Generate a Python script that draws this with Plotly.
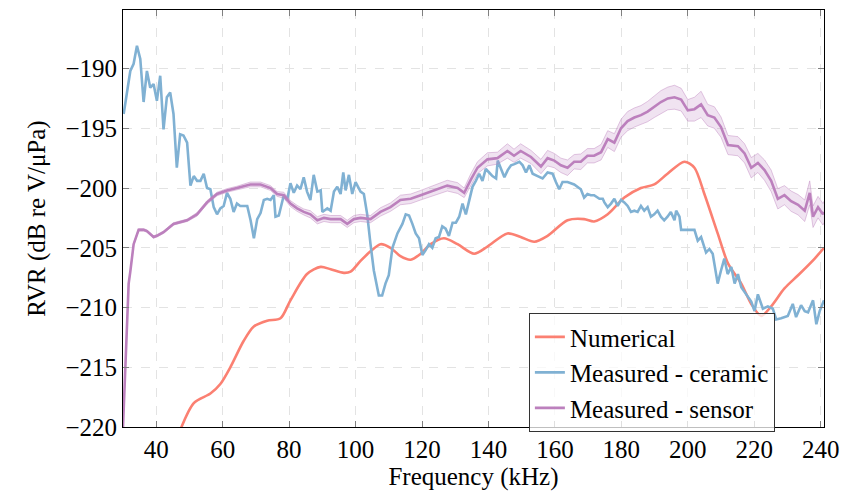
import plotly.graph_objects as go

# ---------------- data ----------------
num_freq = [45.5, 51.3, 56.3, 59.3, 62.3, 66.3, 69.3, 73.4, 77.4, 80.4,
            85.4, 89.5, 92.5, 96.5, 98.5, 101.5, 104.5, 107.5, 110.5, 113.5,
            116.6, 119.6, 122.6, 126.6, 130.7, 135.7, 139.7, 145.7, 149.7, 153.8,
            157.8, 163.8, 168.8, 171.8, 175.9, 180.9, 185.9, 189.9, 193.9, 199.0,
            202.0, 205.0, 209.0, 212.1, 216.1, 219.1, 222.1, 225.1, 229.1, 233.2,
            238.2, 241.0]
num_rvr = [-221.5, -218.0, -217.2, -216.4, -215.0, -212.8, -211.6, -211.1, -210.9, -209.4,
           -207.2, -206.6, -206.8, -207.1, -207.0, -206.1, -205.3, -204.7, -205.0, -205.7,
           -206.0, -205.5, -204.7, -204.2, -204.7, -205.5, -204.9, -203.8, -204.1, -204.5,
           -204.0, -202.7, -202.6, -202.8, -202.2, -200.8, -200.0, -199.7, -198.8, -197.8,
           -198.3, -200.5, -203.8, -206.3, -208.0, -209.7, -210.7, -209.9, -208.4, -207.3,
           -205.9, -205.0]

cer_freq = [30.2, 31.2, 32.2, 33.2, 34.2, 35.2, 36.2, 37.2, 38.2, 39.2,
            40.2, 41.2, 42.2, 43.2, 44.2, 45.2, 46.2, 47.2, 48.2, 49.3,
            50.3, 51.3, 52.3, 53.3, 54.3, 55.3, 56.3, 57.3, 58.3, 59.3,
            60.3, 61.3, 62.3, 63.3, 64.3, 65.3, 66.3, 67.4, 68.4, 69.4,
            70.4, 71.4, 72.4, 73.4, 74.4, 75.4, 75.9, 76.9, 78.4, 79.4,
            80.4, 81.4, 82.4, 83.4, 84.4, 85.4, 86.4, 87.4, 88.5, 89.5,
            90.0, 91.5, 92.5, 93.5, 94.5, 95.5, 96.3, 97.0, 98.0, 99.0,
            100.0, 101.5, 102.5, 103.5, 104.5, 105.5, 106.5, 107.0, 108.0, 109.0,
            110.0, 111.1, 112.6, 114.1, 115.1, 116.1, 117.1, 118.1, 119.1, 120.1,
            121.1, 122.1, 123.1, 124.1, 125.1, 126.1, 127.1, 128.1, 129.2, 130.2,
            131.2, 132.2, 133.2, 134.2, 135.2, 136.2, 137.2, 138.2, 139.2, 140.2,
            141.2, 142.3, 142.8, 143.8, 144.8, 145.8, 146.8, 147.8, 149.3, 150.3,
            151.3, 152.3, 153.3, 154.8, 156.3, 157.8, 159.3, 160.3, 161.3, 162.3,
            163.8, 165.8, 167.8, 168.8, 169.8, 170.8, 171.8, 173.4, 174.4, 174.9,
            175.9, 176.9, 177.9, 178.9, 179.9, 180.9, 181.9, 182.9, 183.9, 184.9,
            185.9, 186.9, 187.9, 188.9, 189.9, 190.9, 191.9, 192.9, 193.9, 194.9,
            196.0, 196.5, 197.5, 198.0, 200.0, 202.0, 203.0, 204.0, 205.5, 206.5,
            207.5, 209.0, 210.0, 211.0, 212.0, 213.1, 214.1, 215.1, 216.1, 217.6,
            219.1, 220.1, 221.1, 222.6, 224.1, 225.6, 226.6, 228.1, 230.1, 231.6,
            232.6, 234.1, 235.2, 236.2, 237.7, 238.7, 239.7, 241.0]
cer_rvr = [-193.8, -192.1, -190.2, -189.6, -188.1, -189.2, -192.8, -190.2, -191.6, -191.3,
           -192.7, -190.6, -195.1, -192.4, -192.0, -193.8, -198.3, -195.5, -195.6, -196.2,
           -199.8, -199.0, -199.4, -199.4, -198.8, -200.0, -200.1, -201.6, -202.2, -201.7,
           -201.5, -200.4, -200.9, -202.0, -201.3, -201.5, -201.5, -201.5, -202.7, -204.2,
           -202.6, -202.1, -201.0, -200.9, -201.0, -200.6, -202.4, -202.3, -200.6, -201.0,
           -199.6, -200.4, -199.8, -200.1, -199.1, -200.3, -201.0, -198.9, -200.3, -200.2,
           -202.0, -201.7, -201.9, -200.3, -199.9, -200.5, -198.7, -200.2, -198.9, -200.5,
           -199.5, -200.3, -200.5, -202.2, -204.7, -206.9, -208.3, -209.0, -209.0, -208.0,
           -207.3, -205.0, -203.8, -203.0, -202.2, -202.3, -203.0, -203.8, -204.2, -205.6,
           -205.2, -204.7, -205.0, -204.2, -204.1, -203.2, -203.4, -204.0, -202.9, -202.9,
           -202.4, -201.3, -202.2, -201.0, -199.9, -199.4, -198.8, -199.4, -198.4, -198.7,
           -199.0, -199.2, -197.7, -198.4, -199.1, -198.5, -198.1, -198.0, -197.8, -198.1,
           -198.7, -198.1, -198.8, -199.0, -199.2, -198.7, -198.8, -199.5, -200.1, -199.5,
           -199.5, -199.7, -200.1, -200.8, -200.5, -200.6, -200.6, -200.9, -200.9, -201.2,
           -201.6, -201.3, -200.9, -201.5, -201.0, -201.2, -201.5, -202.0, -201.9, -202.0,
           -201.5, -201.9, -201.6, -202.4, -202.2, -201.9, -202.4, -202.7, -202.4, -202.0,
           -202.7, -201.9, -202.4, -203.5, -203.5, -203.5, -204.4, -204.1, -205.4, -205.1,
           -205.5, -208.0, -206.9, -205.9, -207.2, -206.6, -208.0, -207.2, -208.3, -208.9,
           -209.5, -210.3, -208.9, -210.1, -209.9, -210.1, -211.0, -210.9, -210.7, -209.7,
           -210.8, -209.8, -210.3, -210.4, -209.4, -211.4, -210.3, -209.4]

sen_freq = [30.0, 30.7, 31.7, 32.2, 33.2, 34.7, 36.2, 37.2, 39.2, 40.2,
            42.2, 45.2, 49.3, 52.3, 55.3, 58.3, 61.3, 64.3, 68.3, 71.4,
            74.4, 76.4, 78.4, 80.4, 82.4, 84.4, 86.4, 88.5, 90.5, 92.5,
            95.5, 97.5, 99.5, 101.5, 104.5, 107.5, 110.5, 113.5, 116.6, 119.6,
            122.6, 125.6, 127.6, 130.7, 132.7, 134.7, 136.7, 139.7, 142.7, 145.7,
            147.7, 149.7, 152.8, 155.8, 157.8, 159.8, 161.8, 163.8, 165.8, 167.8,
            169.8, 171.8, 173.9, 175.9, 177.9, 179.9, 181.9, 183.9, 185.9, 187.9,
            189.9, 191.9, 194.0, 196.0, 198.0, 200.0, 202.0, 204.0, 206.0, 208.0,
            210.0, 212.1, 215.1, 217.1, 219.1, 221.1, 223.1, 225.1, 227.1, 229.1,
            231.1, 233.2, 235.2, 236.7, 237.7, 239.2, 240.7, 241.0]
sen_rvr = [-220.0, -215.0, -208.0, -207.0, -204.7, -203.5, -203.5, -203.6, -204.1, -204.0,
           -203.7, -203.0, -202.7, -202.2, -201.2, -200.5, -200.2, -200.0, -199.7, -199.7,
           -200.0, -200.5, -200.6, -201.3, -201.7, -202.0, -202.2, -202.7, -202.5, -202.6,
           -202.6, -203.0, -202.6, -202.5, -202.6, -202.0, -201.6, -201.0, -200.9, -200.6,
           -200.3, -200.0, -199.8, -200.0, -200.4, -199.3, -198.3, -197.6, -197.5, -196.9,
           -197.3, -196.9, -197.4, -198.2, -197.5, -197.7, -198.1, -198.3, -197.8, -197.8,
           -197.3, -197.3, -197.0, -195.9, -196.2, -195.0, -194.4, -194.1, -193.9, -193.6,
           -193.2, -192.8, -192.5, -192.4, -192.6, -193.5, -193.4, -193.0, -193.9, -194.1,
           -194.9, -196.4, -196.5, -197.1, -198.3, -197.9, -198.5, -199.4, -200.9, -200.6,
           -201.1, -201.4, -201.9, -200.4, -202.4, -201.6, -202.2, -202.0]
sen_spread = [0.0, 0.05, 0.1, 0.1, 0.1, 0.1, 0.1, 0.1, 0.1, 0.1,
              0.1, 0.1, 0.1, 0.15, 0.15, 0.15, 0.15, 0.15, 0.2, 0.2,
              0.2, 0.2, 0.25, 0.25, 0.25, 0.25, 0.3, 0.3, 0.3, 0.3,
              0.3, 0.3, 0.3, 0.3, 0.3, 0.35, 0.35, 0.4, 0.4, 0.4,
              0.4, 0.45, 0.45, 0.45, 0.4, 0.5, 0.5, 0.55, 0.5, 0.6,
              0.55, 0.6, 0.55, 0.6, 0.65, 0.6, 0.6, 0.65, 0.6, 0.65,
              0.6, 0.6, 0.65, 0.7, 0.75, 0.75, 0.8, 0.8, 0.8, 0.85,
              0.9, 0.95, 0.95, 1.0, 0.95, 0.9, 1.0, 1.1, 0.9, 0.9,
              0.85, 0.8, 0.8, 0.8, 0.85, 0.8, 0.85, 0.9, 0.85, 0.8,
              0.85, 0.85, 0.9, 1.0, 0.9, 0.9, 0.9, 0.9]

x_ticks = [40, 60, 80, 100, 120, 140, 160, 180, 200, 220, 240]
y_ticks = [-220, -215, -210, -205, -200, -195, -190]
y_tick_text = ["\u2212220", "\u2212215", "\u2212210", "\u2212205", "\u2212200", "\u2212195", "\u2212190"]

# ---------------- styling ----------------
RED = "#fb8072"
BLUE = "#80b1d3"
PURPLE = "#bc80bd"
FONT = "Liberation Serif, Times New Roman, serif"
FS = 25

sen_upper = [v + s for v, s in zip(sen_rvr, sen_spread)]
sen_lower = [v - s for v, s in zip(sen_rvr, sen_spread)]

fig = go.Figure()
fig.add_trace(go.Scatter(x=num_freq, y=num_rvr, mode="lines", name="Numerical",
                         line=dict(color=RED, width=2.6, shape="spline", smoothing=0.8)))
fig.add_trace(go.Scatter(x=cer_freq, y=cer_rvr, mode="lines", name="Measured - ceramic",
                         line=dict(color=BLUE, width=2.6)))
fig.add_trace(go.Scatter(x=sen_freq, y=sen_upper, mode="lines", showlegend=False,
                         line=dict(color="rgba(188,128,189,0.55)", width=0.8),
                         hoverinfo="skip"))
fig.add_trace(go.Scatter(x=sen_freq, y=sen_lower, mode="lines", showlegend=False,
                         line=dict(color="rgba(188,128,189,0.55)", width=0.8),
                         fill="tonexty", fillcolor="rgba(188,128,189,0.22)",
                         hoverinfo="skip"))
fig.add_trace(go.Scatter(x=sen_freq, y=sen_rvr, mode="lines", name="Measured - sensor",
                         line=dict(color=PURPLE, width=2.6)))

axis_common = dict(
    showline=True, linecolor="black", linewidth=1, mirror="allticks",
    ticks="inside", ticklen=6, tickcolor="#808080", tickwidth=1,
    showgrid=True, gridcolor="#e3e3e3", gridwidth=1, griddash="dash",
    zeroline=False, tickfont=dict(family=FONT, size=FS, color="black"),
)

fig.update_xaxes(range=[30, 241], tickvals=x_ticks,
                 title=dict(text="Frequency (kHz)", font=dict(family=FONT, size=FS, color="black"),
                            standoff=4),
                 **axis_common)
fig.update_yaxes(range=[-220, -185.1], tickvals=y_ticks, ticktext=y_tick_text,
                 title=dict(text="RVR (dB re V/\u03bcPa)", font=dict(family=FONT, size=FS, color="black"),
                            standoff=12),
                 **axis_common)

fig.update_layout(
    template="none",
    width=842, height=497,
    margin=dict(l=123, r=18, t=10, b=70),
    paper_bgcolor="white", plot_bgcolor="white",
    font=dict(family=FONT, size=FS, color="black"),
    showlegend=True,
    legend=dict(x=0.579, y=0.273, xanchor="left", yanchor="top",
                traceorder="normal",
                bgcolor="rgba(255,255,255,0.75)", bordercolor="#333333", borderwidth=1,
                font=dict(family=FONT, size=FS, color="black"),
                tracegroupgap=0),
)

fig.write_html("out.html")
